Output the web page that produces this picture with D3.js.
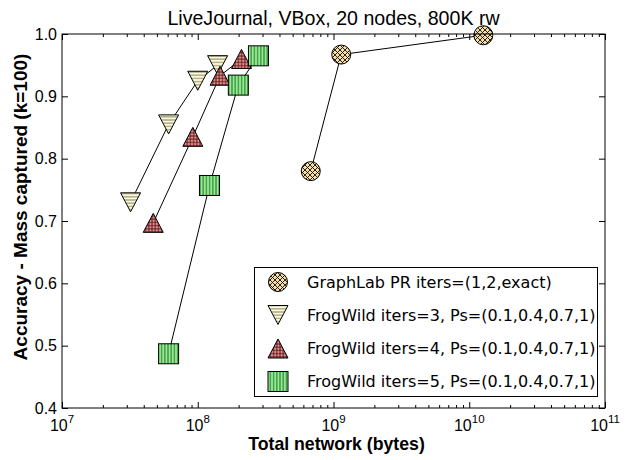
<!DOCTYPE html>
<html><head><meta charset="utf-8">
<script src="https://cdn.jsdelivr.net/npm/d3@7"></script>
<style>body{margin:0;background:#fff}svg{display:block}</style>
</head><body>
<svg id="c" width="626" height="460"></svg>
<script>
const title = "LiveJournal, VBox, 20 nodes, 800K rw";
const xLabel = "Total network (bytes)";
const yLabel = "Accuracy - Mass captured (k=100)";
const xTicks = [1e7, 1e8, 1e9, 1e10, 1e11];
const xTickExp = ["7", "8", "9", "10", "11"];
const yTicks = [0.4, 0.5, 0.6, 0.7, 0.8, 0.9, 1.0];
const seriesNames = ["GraphLab PR iters=(1,2,exact)", "FrogWild iters=3, Ps=(0.1,0.4,0.7,1)", "FrogWild iters=4, Ps=(0.1,0.4,0.7,1)", "FrogWild iters=5, Ps=(0.1,0.4,0.7,1)"];
const graphlabX = [6.8e8, 1.14e9, 1.27e10];
const graphlabY = [0.78, 0.967, 0.998];
const fw3X = [3.2e7, 6.1e7, 1.0e8, 1.4e8];
const fw3Y = [0.73, 0.855, 0.925, 0.95];
const fw4X = [4.7e7, 9.2e7, 1.46e8, 2.1e8];
const fw4Y = [0.697, 0.835, 0.933, 0.96];
const fw5X = [6.1e7, 1.22e8, 1.99e8, 2.8e8];
const fw5Y = [0.487, 0.757, 0.918, 0.965];

const L = 62, R = 605, T = 34, B = 408;
const x = d3.scaleLog().domain([1e7, 1e11]).range([L, R]);
const y = d3.scaleLinear().domain([0.4, 1.0]).range([B, T]);
const svg = d3.select("#c");
const defs = svg.append("defs");
const SANS = "'Liberation Sans', Arial, sans-serif";

function pat(id, bg, size, lines, stroke, sw) {
  const p = defs.append("pattern").attr("id", id).attr("patternUnits", "userSpaceOnUse")
    .attr("width", size).attr("height", size);
  p.append("rect").attr("width", size).attr("height", size).attr("fill", bg);
  lines.forEach(l => p.append("line").attr("x1", l[0]).attr("y1", l[1]).attr("x2", l[2]).attr("y2", l[3])
    .attr("stroke", stroke).attr("stroke-width", sw));
}
pat("pCirc", "#f7dca6", 5, [[0,0,5,5],[0,5,5,0],[-1,4,1,6],[4,-1,6,1],[-1,1,1,-1],[4,6,6,4]], "#111", 0.9);
pat("pDown", "#fffbd8", 3.2, [[0,1.6,3.2,1.6]], "#7a7a60", 0.9);
pat("pUp", "#f58a8a", 3.2, [[0,1.6,3.2,1.6],[1.6,0,1.6,3.2]], "#301010", 0.8);
pat("pSq", "#8fee8f", 3.2, [[1.6,0,1.6,3.2]], "#2a6a2a", 1);

const series = [
  {xs: graphlabX, ys: graphlabY, shape: "circle", fill: "url(#pCirc)"},
  {xs: fw3X, ys: fw3Y, shape: "down", fill: "url(#pDown)"},
  {xs: fw4X, ys: fw4Y, shape: "up", fill: "url(#pUp)"},
  {xs: fw5X, ys: fw5Y, shape: "square", fill: "url(#pSq)"}
];

function marker(g, shape, cx, cy, fill) {
  const h = 9.5;
  let el;
  if (shape === "circle") el = g.append("circle").attr("cx", cx).attr("cy", cy).attr("r", h);
  else if (shape === "square") el = g.append("rect").attr("x", cx - 10).attr("y", cy - 10).attr("width", 20).attr("height", 20);
  else if (shape === "up") el = g.append("path").attr("d", `M${cx},${cy-h}L${cx+h+0.5},${cy+h}L${cx-h-0.5},${cy+h}Z`);
  else el = g.append("path").attr("d", `M${cx},${cy+h}L${cx+h+0.5},${cy-h}L${cx-h-0.5},${cy-h}Z`);
  el.attr("fill", fill).attr("stroke", "#000").attr("stroke-width", 1);
}

svg.append("rect").attr("x", L).attr("y", T).attr("width", R - L).attr("height", B - T).attr("fill", "#fff");

const plot = svg.append("g");
series.forEach(s => {
  const pts = s.xs.map((v, i) => [x(v), y(s.ys[i])]);
  plot.append("path").attr("d", d3.line()(pts)).attr("fill", "none").attr("stroke", "#000").attr("stroke-width", 1);
  pts.forEach(p => marker(plot, s.shape, p[0], p[1], s.fill));
});

const minor = [];
for (let e = 7; e < 11; e++) for (let k = 2; k <= 9; k++) minor.push(k * Math.pow(10, e));

const axG = svg.append("g").attr("font-family", SANS);
function styleAxis(g) { g.select(".domain").remove(); g.selectAll("line").attr("stroke", "#000"); }
axG.append("g").attr("transform", `translate(0,${B})`).call(d3.axisBottom(x).tickValues(minor).tickSize(-3).tickFormat("")).call(styleAxis);
axG.append("g").attr("transform", `translate(0,${T})`).call(d3.axisTop(x).tickValues(minor).tickSize(-3).tickFormat("")).call(styleAxis);
axG.append("g").attr("transform", `translate(0,${T})`).call(d3.axisTop(x).tickValues(xTicks).tickSize(-6).tickFormat("")).call(styleAxis);
axG.append("g").attr("transform", `translate(0,${B})`).call(d3.axisBottom(x).tickValues(xTicks).tickSize(-6).tickFormat("")).call(styleAxis);
xTicks.forEach((v, i) => {
  const t = axG.append("text").attr("x", x(v)).attr("y", B + 23).attr("text-anchor", "middle").attr("font-size", 16).attr("fill", "#000");
  t.append("tspan").text("10");
  t.append("tspan").attr("dy", -8).attr("font-size", 11.5).text(xTickExp[i]);
});
axG.append("g").attr("transform", `translate(${L},0)`).call(d3.axisLeft(y).tickValues(yTicks).tickSize(-6).tickPadding(5).tickFormat(d3.format(".1f"))).call(styleAxis)
  .selectAll("text").attr("font-size", 16).attr("fill", "#000").attr("font-family", SANS);
axG.append("g").attr("transform", `translate(${R},0)`).call(d3.axisRight(y).tickValues(yTicks).tickSize(-6).tickFormat("")).call(styleAxis);

svg.append("rect").attr("x", L).attr("y", T).attr("width", R - L).attr("height", B - T).attr("fill", "none").attr("stroke", "#000").attr("stroke-width", 1);

svg.append("text").attr("x", (L + R) / 2).attr("y", 25).attr("text-anchor", "middle").attr("font-family", SANS).attr("font-size", 19.6).text(title);
svg.append("text").attr("x", (L + R) / 2 + 3).attr("y", 450).attr("text-anchor", "middle").attr("font-family", SANS).attr("font-weight", "bold").attr("font-size", 17.7).text(xLabel);
svg.append("text").attr("transform", `translate(27,207) rotate(-90)`).attr("text-anchor", "middle").attr("font-family", SANS).attr("font-weight", "bold").attr("font-size", 19).text(yLabel);

const lg = svg.append("g");
lg.append("rect").attr("x", 254.5).attr("y", 267.5).attr("width", 343).attr("height", 129).attr("fill", "#fff").attr("stroke", "#000").attr("stroke-width", 1);
const rowY = [282, 315, 348.5, 381.5];
series.forEach((s, i) => {
  marker(lg, s.shape, 278, rowY[i], s.fill);
  lg.append("text").attr("x", 307).attr("y", rowY[i] + 5.5).attr("font-family", "'DejaVu Sans', sans-serif").attr("font-size", 16).attr("fill", "#000").text(seriesNames[i]);
});
</script>
</body></html>
